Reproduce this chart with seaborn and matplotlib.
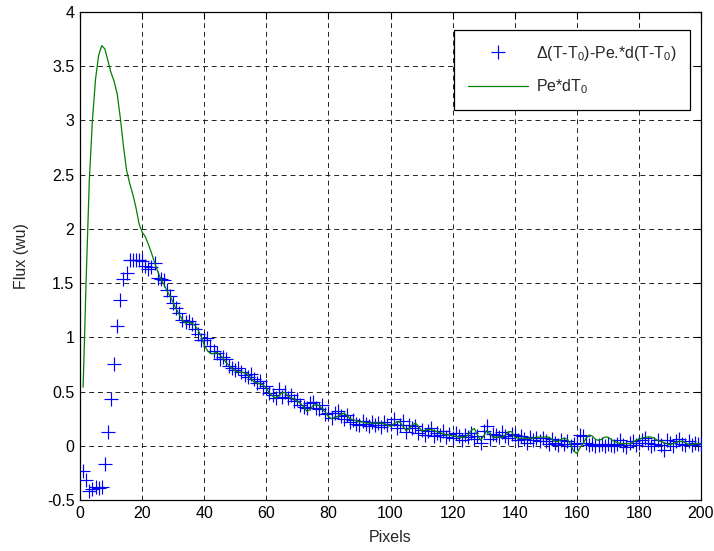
import numpy as np
import seaborn as sns
import matplotlib.pyplot as plt
from matplotlib.lines import Line2D
from matplotlib.ticker import FormatStrFormatter

# pixel index
pixels = list(range(1, 201))

# measured flux (blue markers)
flux_meas = [
    -0.23, -0.32, -0.42, -0.40, -0.38, -0.39, -0.38, -0.17, 0.13, 0.43,
    0.75, 1.10, 1.34, 1.54, 1.59, 1.71, 1.71, 1.71, 1.71, 1.70,
    1.66, 1.63, 1.65, 1.69, 1.55, 1.54, 1.53, 1.44, 1.38, 1.32,
    1.27, 1.22, 1.16, 1.14, 1.15, 1.12, 1.08, 1.03, 0.98, 0.98,
    0.99, 0.92, 0.87, 0.86, 0.80, 0.82, 0.80, 0.74, 0.72, 0.70,
    0.72, 0.68, 0.65, 0.63, 0.66, 0.62, 0.58, 0.60, 0.53, 0.55,
    0.49, 0.47, 0.44, 0.52, 0.45, 0.50, 0.44, 0.47, 0.41, 0.43,
    0.38, 0.36, 0.35, 0.39, 0.40, 0.35, 0.34, 0.38, 0.29, 0.30,
    0.26, 0.30, 0.32, 0.27, 0.25, 0.28, 0.22, 0.24, 0.20, 0.19,
    0.23, 0.20, 0.18, 0.22, 0.19, 0.21, 0.17, 0.22, 0.19, 0.20,
    0.25, 0.16, 0.19, 0.23, 0.13, 0.19, 0.16, 0.18, 0.12, 0.15,
    0.10, 0.14, 0.16, 0.09, 0.12, 0.10, 0.14, 0.08, 0.11, 0.07,
    0.12, 0.09, 0.05, 0.10, 0.08, 0.12, 0.06, 0.09, 0.03, 0.14,
    0.18, 0.06, 0.11, 0.10, 0.08, 0.13, 0.09, 0.07, 0.11, 0.10,
    0.05, 0.09, 0.06, 0.03, 0.08, 0.05, 0.07, 0.04, 0.07, 0.04,
    0.02, 0.06, 0.03, 0.01, 0.05, 0.02, 0.04, 0.00, 0.02, 0.03,
    0.10, 0.09, 0.03, 0.01, 0.02, 0.00, 0.01, 0.02, 0.00, 0.02,
    0.01, 0.00, 0.02, 0.05, 0.01, -0.01, 0.03, 0.04, 0.01, 0.03,
    0.05, 0.07, 0.03, 0.00, 0.02, 0.05, 0.01, -0.04, 0.05, 0.03,
    0.00, 0.04, 0.06, 0.02, 0.01, 0.04, 0.01, 0.03, 0.02, 0.02,
]

# model Pe*dT0 (green line)
flux_model = [
    0.54, 1.55, 2.45, 3.00, 3.38, 3.60, 3.69, 3.66, 3.55, 3.44,
    3.36, 3.24, 3.02, 2.76, 2.54, 2.42, 2.32, 2.20, 2.05, 1.97,
    1.93, 1.86, 1.78, 1.69, 1.61, 1.54, 1.49, 1.43, 1.38, 1.32,
    1.26, 1.21, 1.16, 1.13, 1.14, 1.13, 1.11, 1.07, 1.01, 0.93,
    0.88, 0.85, 0.85, 0.86, 0.84, 0.81, 0.77, 0.74, 0.71, 0.69,
    0.68, 0.68, 0.67, 0.66, 0.62, 0.59, 0.58, 0.57, 0.56, 0.53,
    0.49, 0.46, 0.44, 0.46, 0.49, 0.49, 0.46, 0.44, 0.43, 0.41,
    0.39, 0.36, 0.32, 0.33, 0.37, 0.38, 0.37, 0.34, 0.31, 0.27,
    0.25, 0.26, 0.27, 0.29, 0.30, 0.28, 0.25, 0.24, 0.23, 0.22,
    0.22, 0.21, 0.21, 0.21, 0.21, 0.21, 0.21, 0.20, 0.19, 0.18,
    0.20, 0.22, 0.22, 0.18, 0.14, 0.16, 0.19, 0.21, 0.18, 0.14,
    0.14, 0.15, 0.15, 0.14, 0.13, 0.12, 0.11, 0.10, 0.10, 0.09,
    0.09, 0.08, 0.08, 0.08, 0.10, 0.14, 0.16, 0.10, 0.05, 0.09,
    0.14, 0.11, 0.08, 0.08, 0.08, 0.08, 0.10, 0.13, 0.13, 0.08,
    0.07, 0.07, 0.07, 0.07, 0.07, 0.07, 0.08, 0.08, 0.08, 0.08,
    0.08, 0.06, 0.04, 0.04, 0.06, 0.07, 0.06, 0.01, -0.05, -0.07,
    -0.02, 0.02, 0.07, 0.10, 0.09, 0.06, 0.05, 0.06, 0.08, 0.08,
    0.06, 0.04, 0.03, 0.02, 0.02, 0.02, 0.02, 0.03, 0.05, 0.06,
    0.07, 0.08, 0.08, 0.08, 0.07, 0.05, 0.04, 0.03, 0.02, 0.01,
    0.02, 0.03, 0.04, 0.04, 0.03, 0.01, 0.01, 0.02, 0.02, 0.02,
]

x_ticks = list(range(0, 201, 20))
y_ticks = [-0.5, 0, 0.5, 1, 1.5, 2, 2.5, 3, 3.5, 4]

sns.set_style("white")
plt.rcParams['font.family'] = ['Liberation Sans', 'DejaVu Sans']
plt.rcParams['mathtext.fontset'] = 'custom'
plt.rcParams['mathtext.rm'] = 'Liberation Sans'

fig = plt.figure(figsize=(7.14, 5.51), dpi=100)
ax = fig.add_axes([80 / 714, 1 - 500 / 551, 621 / 714, 488 / 551])

blue = '#0000FF'
green = '#008000'

sns.scatterplot(x=pixels, y=flux_meas, marker='+', s=95, color=blue,
                linewidth=0.85, ax=ax, zorder=3, legend=False)
sns.lineplot(x=pixels, y=flux_model, color=green, linewidth=0.9, ax=ax,
             zorder=4, legend=False)

ax.set_xlim(0, 200)
ax.set_ylim(-0.5, 4)
ax.set_xticks(x_ticks)
ax.set_yticks(y_ticks)
ax.yaxis.set_major_formatter(FormatStrFormatter('%g'))
ax.tick_params(direction='in', length=5, width=0.8, top=True, right=True,
               labelsize=11.5, colors='black', pad=4)
ax.grid(True, color='#222222', linestyle=(0, (5, 4)), linewidth=0.7)
for sp in ax.spines.values():
    sp.set_color('black')
    sp.set_linewidth(0.9)

ax.set_xlabel('Pixels', fontsize=11.5, labelpad=7)
ax.set_ylabel('Flux (wu)', fontsize=11.5, labelpad=13)

handles = [
    Line2D([], [], linestyle='none', marker='+', color=blue, markersize=9.5,
           markeredgewidth=0.85),
    Line2D([], [], color=green, linewidth=0.9),
]
labels = [r'Δ(T-T$\mathregular{_0}$)-Pe.*d(T-T$\mathregular{_0}$)',
          r'Pe*dT$\mathregular{_0}$']
leg = ax.legend(handles, labels, loc='upper right', bbox_to_anchor=(690 / 714, 1 - 30 / 551),
                bbox_transform=fig.transFigure, borderaxespad=0, fontsize=11.5,
                frameon=True, fancybox=False, edgecolor='black', framealpha=1,
                borderpad=0.85, handlelength=3.8, handletextpad=0.45,
                labelspacing=0.95, numpoints=1)
leg.get_frame().set_linewidth(0.9)

plt.savefig('out.png', dpi=100)
